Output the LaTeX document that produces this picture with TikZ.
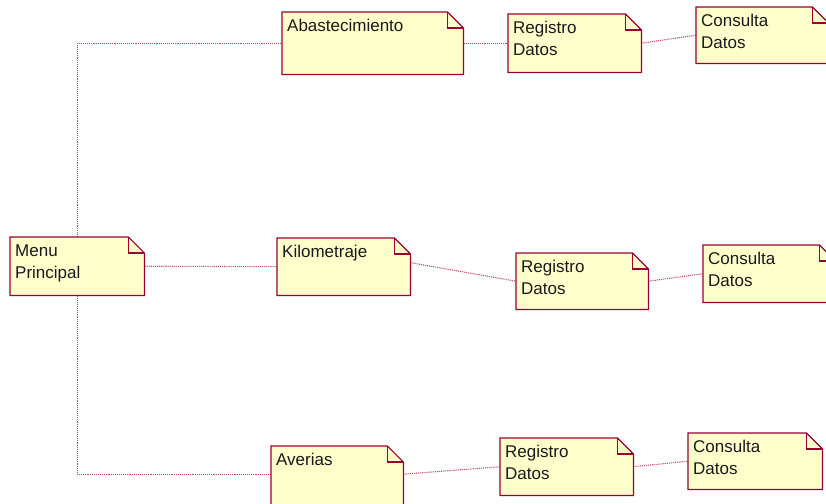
\documentclass[tikz,border=0pt]{standalone}
\usepackage{fontspec}
\setmainfont{Liberation Sans}
\usetikzlibrary{backgrounds}
\definecolor{notefill}{HTML}{FFFFCC}
\definecolor{noteborder}{HTML}{990033}
\definecolor{linkcol}{HTML}{C04878}
\begin{document}
\begin{tikzpicture}[x=1pt, y=-1pt,
    note/.style={anchor=north west, align=left, inner xsep=5pt, inner ysep=4pt,
      text height=15.5pt, font=\fontsize{17}{22}\selectfont, text=black!90},
    noteline/.style={draw=noteborder, line width=1.2pt},
    link/.style={draw=linkcol, line width=1.1pt, densely dotted}]
  \useasboundingbox (0,0) rectangle (826,503);
  % menu and the three options
  \node[note, text width=124pt, text depth=34.5pt] (menu) at (10,237) {Menu\\Principal};
  \node[note, text width=171pt, text depth=38.5pt] (abas) at (282,12) {Abastecimiento};
  \node[note, text width=123pt, text depth=33.5pt] (kilo) at (277,238) {Kilometraje};
  \node[note, text width=122pt, text depth=36.5pt] (aver) at (271,446) {Averias};
  % registro / consulta for each option
  \node[note, text width=123pt, text depth=34.5pt] (reg1) at (508,14) {Registro\\Datos};
  \node[note, text width=122pt, text depth=32.5pt] (reg2) at (516,253) {Registro\\Datos};
  \node[note, text width=123pt, text depth=33.5pt] (reg3) at (500,438) {Registro\\Datos};
  \node[note, text width=122pt, text depth=32.5pt] (con1) at (696,7) {Consulta\\Datos};
  \node[note, text width=122pt, text depth=33.5pt] (con2) at (703,245) {Consulta\\Datos};
  \node[note, text width=124pt, text depth=32.5pt] (con3) at (688,433) {Consulta\\Datos};
  \begin{scope}[on background layer]
    \draw[link] (menu.north) |- (abas.west);
    \draw[link] (menu.south) |- ([yshift=2pt]aver.west);
    \draw[link] (menu.east) -- (kilo.west);
    \draw[link] (abas.east) -- (reg1.west);
    \draw[link] ([yshift=4pt]kilo.east) -- (reg2.west);
    \draw[link] ([yshift=2pt]aver.east) -- (reg3.west);
    \draw[link] (reg1.east) -- (con1.west);
    \draw[link] (reg2.east) -- (con2.west);
    \draw[link] (reg3.east) -- (con3.west);
    % note outlines with the folded corner
    \foreach \n in {menu,abas,kilo,aver,reg1,reg2,reg3,con1,con2,con3} {
      \draw[noteline, fill=notefill] (\n.north west) -- ([xshift=-16pt]\n.north east)
        -- ([yshift=-16pt]\n.north east) -- (\n.south east) -- (\n.south west) -- cycle;
      \draw[noteline] ([xshift=-16pt]\n.north east) |- ([yshift=-16pt]\n.north east);
    }
  \end{scope}
\end{tikzpicture}
\end{document}
